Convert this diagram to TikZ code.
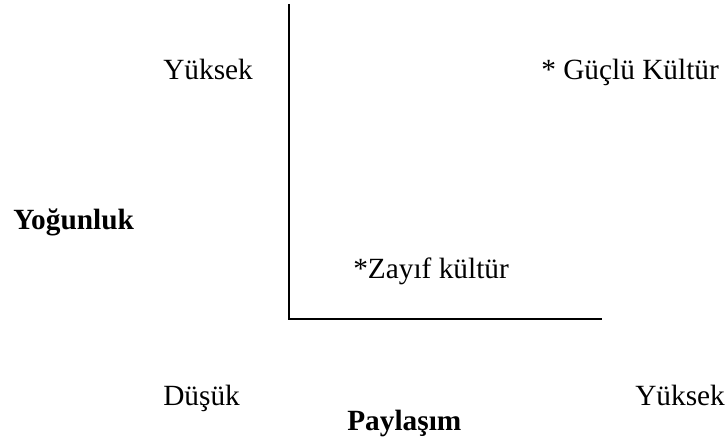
\documentclass[tikz,border=0pt]{standalone}
\usepackage{fontspec}
\setmainfont{Liberation Serif}
\begin{document}
\begin{tikzpicture}[x=0.75pt,y=-0.75pt,
  lbl/.style={anchor=base west,inner sep=0pt,font=\fontsize{22}{26}\selectfont},
  boldlbl/.style={lbl,font=\fontsize{22}{26}\selectfont\bfseries},
  axisline/.style={line width=1.5pt,black}]
\useasboundingbox (0,0) rectangle (727,441);
% axes
\coordinate (top) at (288.5,4);
\coordinate (origin) at (288.5,318.5);
\coordinate (right) at (602,318.5);
\draw[axisline] (top) -- (origin) -- (right);
% labels
\node[lbl] (yhigh) at (163,80) {Yüksek};
\node[lbl] (strong) at (541,80) {* Güçlü Kültür};
\node[boldlbl] (yaxis) at (13,230) {Yoğunluk};
\node[lbl] (weak) at (353,279) {*Zayıf kültür};
\node[lbl] (xlow) at (163,405) {Düşük};
\node[lbl] (xhigh) at (635,405) {Yüksek};
\node[boldlbl] (xaxis) at (347,430) {Paylaşım};
\end{tikzpicture}
\end{document}
